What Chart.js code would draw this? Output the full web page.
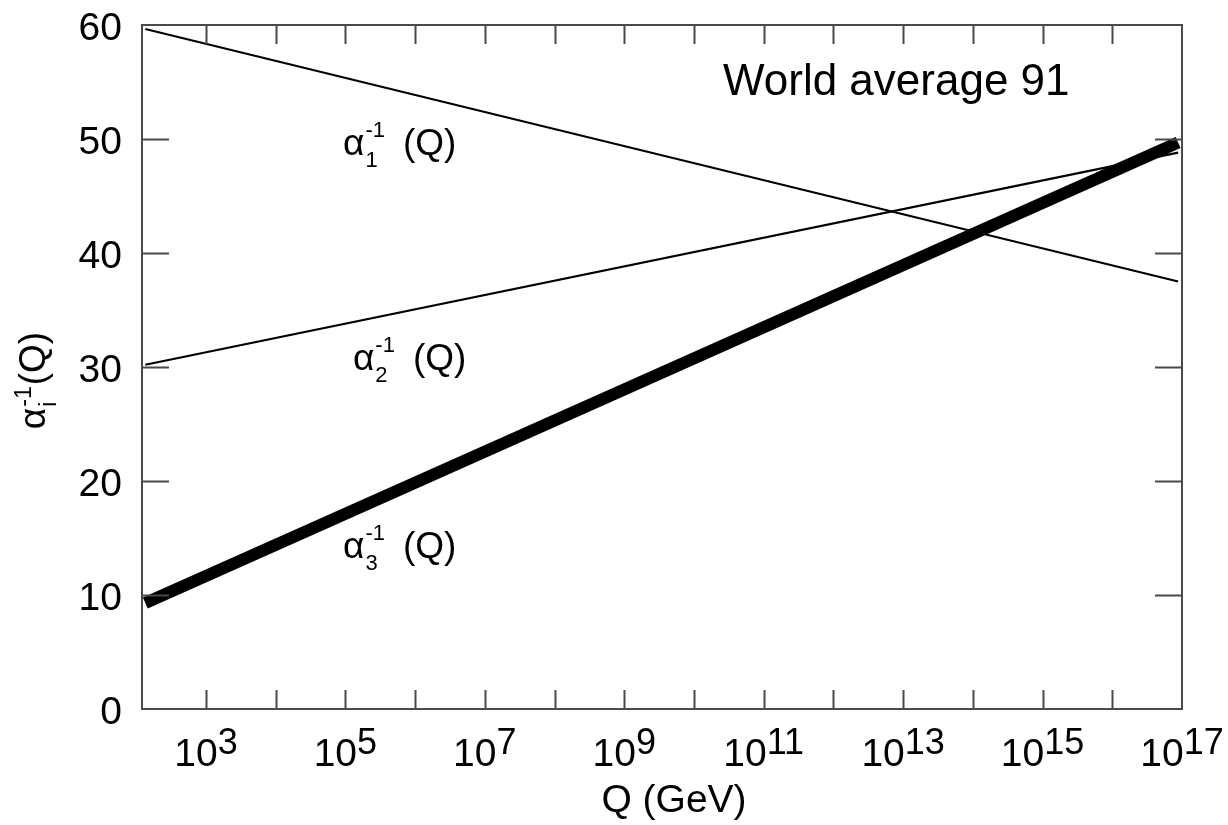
<!DOCTYPE html>
<html><head><meta charset="utf-8">
<script src="https://cdn.jsdelivr.net/npm/chart.js@4.4.1/dist/chart.umd.min.js"></script>
<style>html,body{margin:0;padding:0;background:#fff}#wrap{width:1228px;height:825px;position:relative}</style>
</head><body><div id="wrap"><canvas id="c"></canvas></div>
<script>
// ---- data ----
const Q_GEV = [135, 8.8e16];
const ALPHA1_INV = [59.65, 37.5];
const ALPHA2_INV = [30.2, 48.8];
const ALPHA3_INV = [9.3, 49.7];
const X_TICK_EXP = [3,4,5,6,7,8,9,10,11,12,13,14,15,16];
const X_LABEL_EXP = [3,5,7,9,11,13,15,17];
const Y_TICKS = [0,10,20,30,40,50,60];
const X_MIN = 121, X_MAX = 1e17, Y_MIN = 0, Y_MAX = 60;
const SERIES_SUB = ['1','2','3'];
const X_TITLE = 'Q (GeV)';
const NOTE = 'World average 91';

// label anchors (data coordinates)
const LABEL_Q = [9.25e4, 1.285e5, 9.25e4];
const LABEL_Y = [48.6, 29.74, 13.25];
const NOTE_Q = 2.61e10, NOTE_Y = 53.86;

const FONT = '"Liberation Sans", Arial, Helvetica, sans-serif';

function drawAlphaLabel(ctx, x, y, sub, big, small, raise, drop, parenOffset) {
  ctx.font = big + 'px ' + FONT;
  ctx.fillText('\u03B1', x, y);
  const wa = ctx.measureText('\u03B1').width;
  ctx.font = small + 'px ' + FONT;
  ctx.fillText(sub, x + wa + 1, y + drop);
  ctx.fillText('-1', x + wa + 1, y - raise);
  const ws = Math.max(ctx.measureText(sub).width, ctx.measureText('-1').width);
  ctx.font = big + 'px ' + FONT;
  const px = parenOffset != null ? x + parenOffset : x + wa + 1 + ws + 1;
  ctx.fillText('(Q)', px, y);
}

const deco = {
  id: 'deco',
  afterDraw(chart) {
    const ctx = chart.ctx, a = chart.chartArea;
    const xs = chart.scales.x, ys = chart.scales.y;
    ctx.save();
    // frame
    ctx.strokeStyle = '#4a4a4a';
    ctx.lineWidth = 2;
    ctx.strokeRect(a.left, a.top, a.right - a.left, a.bottom - a.top);
    // x ticks (inside, bottom and top)
    ctx.beginPath();
    X_TICK_EXP.forEach(e => {
      const p = Math.round(xs.getPixelForValue(Math.pow(10, e))) + 0.5;
      ctx.moveTo(p, a.bottom); ctx.lineTo(p, a.bottom - 19);
      ctx.moveTo(p, a.top); ctx.lineTo(p, a.top + 19);
    });
    // y ticks (inside, left and right)
    Y_TICKS.forEach(v => {
      if (v <= Y_MIN || v >= Y_MAX) return;
      const p = Math.round(ys.getPixelForValue(v)) + 0.5;
      ctx.moveTo(a.left, p); ctx.lineTo(a.left + 27, p);
      ctx.moveTo(a.right, p); ctx.lineTo(a.right - 27, p);
    });
    ctx.stroke();

    ctx.fillStyle = '#000';
    // y tick labels
    ctx.font = '39px ' + FONT;
    ctx.textAlign = 'right';
    ctx.textBaseline = 'alphabetic';
    Y_TICKS.forEach(v => {
      const p = ys.getPixelForValue(v);
      ctx.fillText(String(v), 122, p + 15);
    });
    // x tick labels 10^n
    ctx.textAlign = 'left';
    X_LABEL_EXP.forEach(e => {
      const p = xs.getPixelForValue(Math.pow(10, e));
      ctx.font = '39px ' + FONT;
      const w1 = ctx.measureText('10').width;
      ctx.font = '36px ' + FONT;
      const w2 = ctx.measureText(String(e)).width;
      const x0 = p - (w1 + w2) / 2;
      ctx.font = '39px ' + FONT;
      ctx.fillText('10', x0, a.bottom + 57);
      ctx.font = '36px ' + FONT;
      ctx.fillText(String(e), x0 + w1, a.bottom + 45);
    });
    // x title
    ctx.font = '39px ' + FONT;
    ctx.textAlign = 'center';
    ctx.fillText(X_TITLE, (a.left + a.right) / 2 + 12, a.bottom + 103);
    // y title (rotated)
    ctx.save();
    ctx.translate(45, 380);
    ctx.rotate(-Math.PI / 2);
    ctx.textAlign = 'left';
    ctx.font = '37px ' + FONT;
    const wa = ctx.measureText('\u03B1').width;
    ctx.font = '23px ' + FONT;
    const ws = ctx.measureText('-1').width;
    ctx.font = '37px ' + FONT;
    const wq = ctx.measureText('(Q)').width;
    const tot = wa + ws + wq + 3;
    drawAlphaLabel(ctx, -tot / 2, 0, 'i', 37, 23, 14, 11, null);
    ctx.restore();
    // series labels
    ctx.textAlign = 'left';
    for (let i = 0; i < 3; i++) {
      const x = xs.getPixelForValue(LABEL_Q[i]);
      const y = ys.getPixelForValue(LABEL_Y[i]);
      drawAlphaLabel(ctx, x, y, SERIES_SUB[i], 37, 22, 18, 12, 60);
    }
    // note
    ctx.font = '44px ' + FONT;
    ctx.fillText(NOTE, xs.getPixelForValue(NOTE_Q), ys.getPixelForValue(NOTE_Y));
    ctx.restore();
  }
};

function pts(ys) { return Q_GEV.map((q, i) => ({x: q, y: ys[i]})); }

new Chart(document.getElementById('c'), {
  type: 'line',
  data: {
    datasets: [
      {label: 'alpha1', data: pts(ALPHA1_INV), borderColor: '#000', borderWidth: 2.2, pointRadius: 0, tension: 0, borderCapStyle: 'butt'},
      {label: 'alpha2', data: pts(ALPHA2_INV), borderColor: '#000', borderWidth: 2.2, pointRadius: 0, tension: 0, borderCapStyle: 'butt'},
      {label: 'alpha3', data: pts(ALPHA3_INV), borderColor: '#000', borderWidth: 12, pointRadius: 0, tension: 0, borderCapStyle: 'butt'}
    ]
  },
  options: {
    responsive: true,
    maintainAspectRatio: false,
    animation: false,
    devicePixelRatio: 1,
    layout: {padding: {left: 142, top: 25, right: 46, bottom: 116}},
    plugins: {legend: {display: false}, tooltip: {enabled: false}},
    scales: {
      x: {
        type: 'logarithmic', min: X_MIN, max: X_MAX,
        ticks: {display: false}, grid: {display: false, drawTicks: false}, border: {display: false},
        afterBuildTicks: s => { s.ticks = X_TICK_EXP.map(e => ({value: Math.pow(10, e)})); },
        afterFit: s => { s.height = 0; }
      },
      y: {
        type: 'linear', min: Y_MIN, max: Y_MAX,
        ticks: {display: false}, grid: {display: false, drawTicks: false}, border: {display: false},
        afterBuildTicks: s => { s.ticks = Y_TICKS.map(v => ({value: v})); },
        afterFit: s => { s.width = 0; }
      }
    }
  },
  plugins: [deco]
});
</script>
</body></html>
